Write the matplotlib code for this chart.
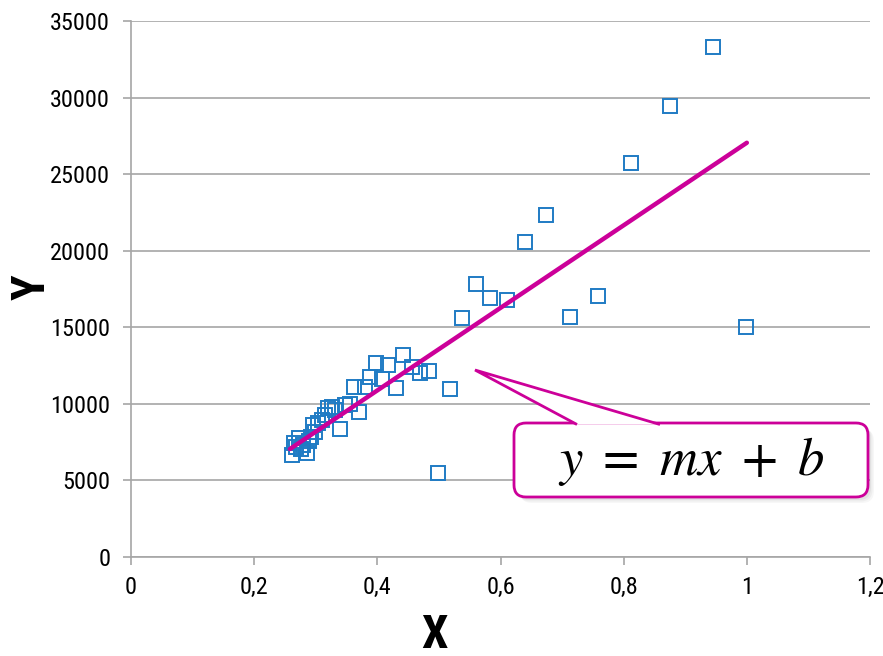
import matplotlib
matplotlib.use('Agg')
import matplotlib.pyplot as plt
from matplotlib.patches import FancyBboxPatch, Polygon

# data
x_vals = [0.945, 0.875, 0.812, 0.674, 0.640, 0.560, 0.583, 0.611, 0.758, 0.713,
          0.538, 0.999, 0.518, 0.499,
          0.442, 0.398, 0.418, 0.456, 0.469, 0.484, 0.388, 0.407, 0.362, 0.380,
          0.430, 0.371, 0.356, 0.348, 0.331, 0.320, 0.340, 0.310, 0.304, 0.299,
          0.293, 0.280, 0.272, 0.264, 0.261, 0.285, 0.268, 0.276, 0.289, 0.326,
          0.315, 0.296]
y_vals = [33300, 29450, 25700, 22330, 20570, 17830, 16910, 16780, 17040, 15670,
          15610, 15020, 10970, 5480,
          13190, 12690, 12540, 12430, 12000, 12160, 11770, 11600, 11120, 11120,
          11020, 9490, 9990, 9930, 9600, 9710, 8340, 8950, 8730, 8180,
          7860, 7320, 7750, 7420, 6660, 6770, 7200, 7050, 7600, 9820,
          9270, 8620]

trend_x = [0.258, 1.0]
trend_y = [7050, 27050]

x_ticks = [0, 0.2, 0.4, 0.6, 0.8, 1.0, 1.2]
x_tick_labels = ['0', '0,2', '0,4', '0,6', '0,8', '1', '1,2']
y_ticks = [0, 5000, 10000, 15000, 20000, 25000, 30000, 35000]
equation = r'$y\ =\ mx\ +\ b$'

FONT = ['Liberation Sans Narrow', 'DejaVu Sans Condensed', 'Roboto Condensed',
        'DejaVu Sans']
plt.rcParams['font.family'] = FONT
plt.rcParams['font.stretch'] = 'condensed'
plt.rcParams['mathtext.fontset'] = 'stix'

fig = plt.figure(figsize=(8.83, 6.56), dpi=100)
ax = fig.add_axes([131 / 883, 99 / 656, 739 / 883, 536 / 656])

ax.set_xlim(0, 1.2)
ax.set_ylim(0, 35000)
ax.set_xticks(x_ticks)
ax.set_xticklabels(x_tick_labels)
ax.set_yticks(y_ticks)
ax.set_yticklabels([str(v) for v in y_ticks])
ax.grid(axis='y', color='#a6a6a6', linewidth=1.2)
ax.set_axisbelow(True)
for s in ['top', 'right']:
    ax.spines[s].set_visible(False)
for s in ['left', 'bottom']:
    ax.spines[s].set_color('#a6a6a6')
    ax.spines[s].set_linewidth(1.2)
ax.tick_params(axis='both', colors='#a6a6a6', length=6, width=1.2,
               labelcolor='black', labelsize=17.5)
ax.tick_params(axis='x', pad=8)
ax.tick_params(axis='y', pad=9)

ax.plot(x_vals, y_vals, linestyle='none', marker='s', markersize=9.5,
        markerfacecolor='none', markeredgecolor='#1f7bc4', markeredgewidth=1.4,
        zorder=3)
ax.plot(trend_x, trend_y, color='#cc0099', linewidth=3.2,
        solid_capstyle='round', zorder=4)

ax.set_xlabel('X', fontsize=34, fontweight='bold', va='center', ha='center')
ax.set_ylabel('Y', fontsize=34, fontweight='bold', va='center', ha='center')
ax.xaxis.set_label_coords(303 / 739, -78 / 536)
ax.yaxis.set_label_coords(-99 / 739, 270 / 536)

# callout overlay in pixel space
ov = fig.add_axes([0, 0, 1, 1])
ov.set_xlim(0, 883)
ov.set_ylim(656, 0)
ov.axis('off')
ov.patch.set_alpha(0)

for i, a in enumerate([0.06, 0.08, 0.10]):
    off = 6 - i * 1.5
    ov.add_patch(FancyBboxPatch((514 + off, 423 + off), 354, 74,
                                boxstyle='round,pad=0,rounding_size=12',
                                facecolor='#808080', edgecolor='none',
                                alpha=a, zorder=1))
ov.add_patch(FancyBboxPatch((514, 423), 354, 74,
                            boxstyle='round,pad=0,rounding_size=12',
                            facecolor='white', edgecolor='#cc0099',
                            linewidth=2, zorder=2))
ov.add_patch(Polygon([(577, 424.5), (475, 370), (660, 424.5)], closed=False,
                     facecolor='white', edgecolor='#cc0099', linewidth=2,
                     joinstyle='miter', zorder=3))
ov.text(691, 461, equation, fontsize=38, ha='center', va='center', zorder=4)

fig.savefig('out.png', dpi=100)
